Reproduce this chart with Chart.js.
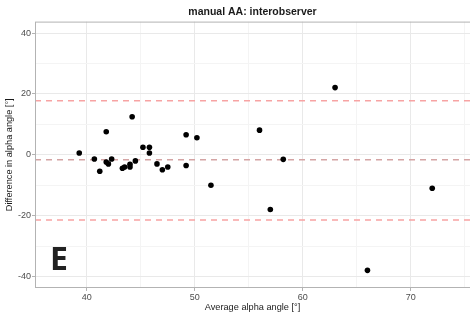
<!DOCTYPE html>
<html>
<head>
<meta charset="utf-8">
<script src="https://cdn.jsdelivr.net/npm/chart.js@4"></script>
<style>
  html, body { margin: 0; padding: 0; background: #fff; }
  #wrap { width: 470px; height: 316px; }
</style>
</head>
<body>
<div id="wrap"><canvas id="ba-chart"></canvas></div>
<script>
// Bland-Altman data: mean of the two observers vs difference
const avgAngle = [39.3, 40.7, 41.2, 41.8, 41.8, 42.0, 42.3, 43.3, 43.5, 44.0,
                  44.0, 44.2, 44.5, 45.2, 45.8, 45.8, 46.5, 47.0, 47.5, 49.2,
                  49.2, 50.2, 51.5, 56.0, 57.0, 58.2, 63.0, 66.0, 72.0];
const diffAngle = [0.6, -1.4, -5.4, 7.6, -2.4, -3.0, -1.4, -4.4, -4.0, -3.1,
                   -4.0, 12.5, -2.0, 2.5, 2.5, 0.6, -3.0, -4.9, -4.0, 6.6,
                   -3.5, 5.6, -10.0, 8.1, -18.0, -1.5, 22.1, -38.0, -11.0];

// mean difference and limits of agreement
const meanDiff = -1.6;
const upperLoA = 17.8;
const lowerLoA = -21.4;

const xRange = [35.2, 75.5];
const yRange = [-43.8, 43.8];
const xMajor = [40, 50, 60, 70];
const xMinor = [45, 55, 65, 75];
const yMajor = [-40, -20, 0, 20, 40];
const yMinor = [-30, -10, 10, 30];

const points = avgAngle.map((x, i) => ({ x: x, y: diffAngle[i] }));
const hline = y => [{ x: xRange[0], y: y }, { x: xRange[1], y: y }];

function setTicks(major, minor) {
    return function(scale) {
        scale.ticks = major.concat(minor).sort((a, b) => a - b).map(v => ({ value: v }));
    };
}

const panelPlugin = {
    id: 'panel',
    afterDraw(chart) {
        const ctx = chart.ctx;
        const a = chart.chartArea;
        ctx.save();
        // panel border (right side runs off the canvas)
        ctx.strokeStyle = '#b3b3b3';
        ctx.lineWidth = 1;
        ctx.strokeRect(a.left + 0.5, a.top + 0.5, a.right - a.left + 2, a.bottom - a.top - 1);
        // panel letter
        ctx.fillStyle = '#222';
        ctx.font = 'bold 32px "Open Sans"';
        ctx.textBaseline = 'alphabetic';
        ctx.fillText('E', a.left + 15, a.bottom - 18);
        ctx.restore();
    }
};

const tickFont = { family: 'Liberation Sans', size: 9 };

new Chart(document.getElementById('ba-chart'), {
    type: 'scatter',
    data: {
        datasets: [{
            data: points,
            backgroundColor: '#000',
            borderWidth: 0,
            pointRadius: 2.8
        }, {
            data: hline(upperLoA),
            showLine: true,
            borderColor: '#f7a3a3',
            borderWidth: 1.5,
            borderDash: [6, 5],
            pointRadius: 0
        }, {
            data: hline(meanDiff),
            showLine: true,
            borderColor: '#d4a4a4',
            borderWidth: 1.5,
            borderDash: [6, 5],
            pointRadius: 0
        }, {
            data: hline(lowerLoA),
            showLine: true,
            borderColor: '#f7a3a3',
            borderWidth: 1.5,
            borderDash: [6, 5],
            pointRadius: 0
        }]
    },
    options: {
        responsive: true,
        maintainAspectRatio: false,
        animation: false,
        layout: { padding: 0, autoPadding: false },
        scales: {
            x: {
                type: 'linear',
                min: xRange[0],
                max: xRange[1],
                afterBuildTicks: setTicks(xMajor, xMinor),
                afterFit: function(scale) {
                    scale.height = 28;
                    scale.paddingLeft = 0;
                    scale.paddingRight = 0;
                },
                border: { display: false },
                grid: {
                    color: c => xMajor.includes(c.tick.value) ? '#e9e9e9' : '#f4f4f4',
                    tickColor: c => xMajor.includes(c.tick.value) ? '#b3b3b3' : 'rgba(0,0,0,0)',
                    tickLength: 3
                },
                ticks: {
                    color: '#4d4d4d',
                    font: tickFont,
                    padding: 1,
                    maxRotation: 0,
                    autoSkip: false,
                    callback: v => xMajor.includes(v) ? String(v) : ''
                },
                title: {
                    display: true,
                    text: 'Average alpha angle [°]',
                    color: '#1a1a1a',
                    font: { family: 'Liberation Sans', size: 9.2 },
                    padding: { top: 0, bottom: 3 }
                }
            },
            y: {
                min: yRange[0],
                max: yRange[1],
                afterBuildTicks: setTicks(yMajor, yMinor),
                afterFit: function(scale) { scale.width = 35; },
                border: { display: false },
                grid: {
                    color: c => yMajor.includes(c.tick.value) ? '#e9e9e9' : '#f4f4f4',
                    tickColor: c => yMajor.includes(c.tick.value) ? '#b3b3b3' : 'rgba(0,0,0,0)',
                    tickLength: 3
                },
                ticks: {
                    color: '#4d4d4d',
                    font: tickFont,
                    padding: 1,
                    autoSkip: false,
                    callback: v => yMajor.includes(v) ? String(v) : ''
                },
                title: {
                    display: true,
                    text: 'Difference in alpha angle [°]',
                    color: '#1a1a1a',
                    font: { family: 'Liberation Sans', size: 9.2 },
                    padding: { top: 4, bottom: 0 }
                }
            }
        },
        plugins: {
            legend: { display: false },
            tooltip: { enabled: false },
            title: {
                display: true,
                text: 'manual AA: interobserver',
                fullSize: false,
                color: '#1a1a1a',
                font: { family: 'Liberation Sans', size: 10.5, weight: 'bold' },
                padding: { top: 6, bottom: 3 }
            }
        }
    },
    plugins: [panelPlugin]
});
</script>
</body>
</html>
